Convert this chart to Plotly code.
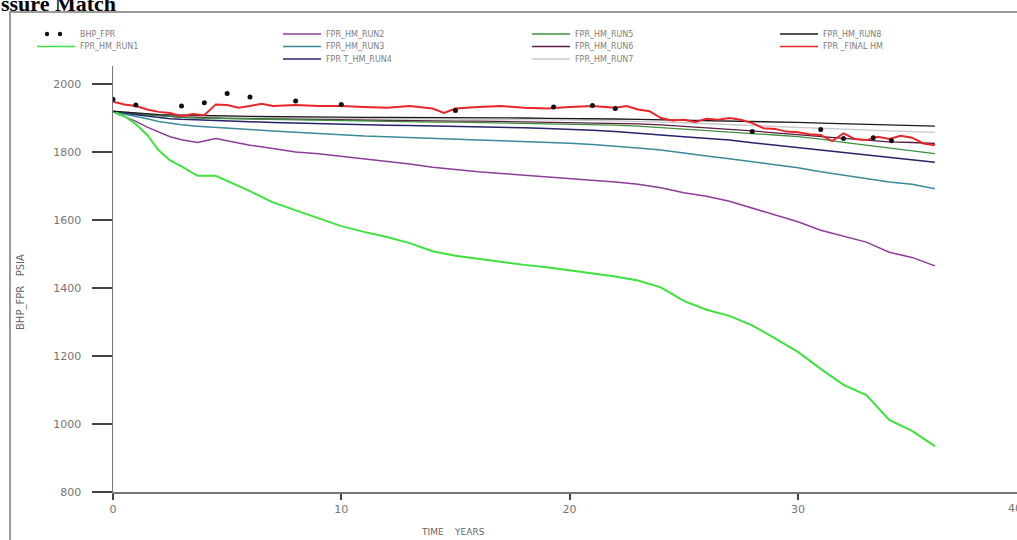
import plotly.graph_objects as go

# ---------------- data ----------------
T = [0, 0.5, 1, 1.5, 2, 2.5, 3, 3.7, 4.5,
     5, 6, 7, 8, 9, 10, 11, 12, 13, 14, 15, 16, 17, 18, 19, 20,
     21, 22, 23, 24, 25, 26, 27, 28, 29, 30, 31, 32, 33, 34, 35, 36]

RUN1 = [1920, 1905, 1882, 1850, 1805, 1775, 1758, 1730, 1730,
        1715, 1685, 1652, 1628, 1605, 1582, 1565, 1550, 1532, 1508, 1495, 1486, 1476, 1468, 1461, 1452,
        1444, 1434, 1422, 1402, 1362, 1336, 1318, 1290, 1252, 1212, 1162, 1115, 1085, 1012, 980, 935]
RUN2 = [1918, 1905, 1890, 1873, 1858, 1845, 1836, 1828, 1840,
        1833, 1820, 1810, 1800, 1795, 1788, 1780, 1772, 1765, 1755, 1748, 1742, 1737, 1732, 1728, 1722,
        1717, 1712, 1705, 1695, 1680, 1670, 1655, 1635, 1615, 1595, 1570, 1552, 1535, 1505, 1490, 1465]
RUN3 = [1918, 1912, 1905, 1898, 1890, 1885, 1880, 1876, 1872,
        1870, 1866, 1862, 1858, 1854, 1850, 1847, 1845, 1842, 1840, 1837, 1835, 1833, 1831, 1829, 1826,
        1822, 1818, 1812, 1806, 1796, 1788, 1780, 1772, 1762, 1754, 1742, 1732, 1722, 1712, 1705, 1692]
RUN4 = [1918, 1914, 1910, 1905, 1900, 1898, 1896, 1894, 1892,
        1891, 1889, 1887, 1885, 1883, 1881, 1880, 1879, 1878, 1877, 1875, 1874, 1872, 1871, 1869, 1867,
        1864, 1860, 1854, 1850, 1845, 1840, 1835, 1827, 1820, 1812, 1804, 1798, 1790, 1783, 1777, 1770]
RUN5 = [1918, 1915, 1912, 1909, 1906, 1904, 1902, 1900, 1899,
        1898, 1897, 1895, 1894, 1893, 1892, 1891, 1890, 1889, 1888, 1888, 1887, 1886, 1885, 1884, 1883,
        1881, 1879, 1876, 1872, 1868, 1864, 1860, 1855, 1850, 1845, 1838, 1828, 1820, 1810, 1802, 1795]
RUN6 = [1918, 1915, 1912, 1910, 1907, 1905, 1903, 1901, 1900,
        1899, 1898, 1897, 1896, 1895, 1895, 1894, 1893, 1893, 1892, 1891, 1891, 1890, 1890, 1889, 1888,
        1887, 1885, 1883, 1880, 1876, 1872, 1868, 1862, 1856, 1850, 1845, 1840, 1835, 1830, 1828, 1825]
RUN7 = [1918, 1916, 1913, 1911, 1909, 1907, 1906, 1905, 1904,
        1903, 1902, 1901, 1900, 1900, 1899, 1899, 1898, 1898, 1897, 1897, 1896, 1896, 1895, 1895, 1894,
        1893, 1892, 1890, 1888, 1886, 1884, 1881, 1878, 1875, 1872, 1869, 1866, 1864, 1862, 1860, 1858]
RUN8 = [1920, 1917, 1914, 1912, 1910, 1909, 1908, 1907, 1906,
        1906, 1905, 1904, 1904, 1903, 1903, 1902, 1902, 1902, 1901, 1901, 1900, 1900, 1900, 1899, 1899,
        1898, 1897, 1896, 1895, 1894, 1893, 1892, 1890, 1889, 1887, 1885, 1883, 1882, 1880, 1878, 1876]

T_FINAL = [0, 0.5, 1, 1.5, 2, 2.5, 3, 3.5, 4, 4.5, 5, 5.5, 6, 6.5, 7, 8, 9, 10, 11, 12, 13, 14,
           14.5, 15, 16, 17, 18, 19, 20, 21, 22, 22.5, 23, 23.5, 24, 24.5, 25, 25.5, 26, 26.5, 27,
           27.5, 28, 28.5, 29, 29.5, 30, 30.5, 31, 31.5, 32, 32.5, 33, 33.5, 34, 34.5, 35, 35.5, 36]
FINAL = [1948, 1940, 1935, 1925, 1918, 1915, 1905, 1912, 1908, 1940, 1938, 1930, 1935, 1942, 1935,
         1938, 1935, 1935, 1932, 1930, 1935, 1928, 1915, 1928, 1932, 1935, 1930, 1928, 1932, 1935,
         1930, 1935, 1925, 1920, 1900, 1893, 1895, 1888, 1898, 1895, 1900, 1895, 1885, 1870, 1868,
         1860, 1858, 1852, 1850, 1832, 1855, 1838, 1835, 1845, 1838, 1848, 1842, 1825, 1820]

BHP_T = [0, 1, 3, 4, 5, 6, 8, 10, 15, 19.3, 21, 22, 28, 31, 32, 33.3, 34.1]
BHP_P = [1955, 1938, 1935, 1945, 1972, 1962, 1950, 1940, 1922, 1932, 1937, 1928, 1860, 1866, 1840, 1842, 1833]

Y_TICKS = [800, 1000, 1200, 1400, 1600, 1800, 2000]
X_TICKS = [0, 10, 20, 30]

SERIES = [
    ("FPR_HM_RUN7", RUN7, "#c9c9c9", 1.3),
    ("FPR_HM_RUN6", RUN6, "#5a1d40", 1.3),
    ("FPR_HM_RUN5", RUN5, "#3d8f3d", 1.3),
    ("FPR T_HM_RUN4", RUN4, "#24246a", 1.5),
    ("FPR_HM_RUN3", RUN3, "#3a8a9c", 1.5),
    ("FPR_HM_RUN2", RUN2, "#8e3c9a", 1.5),
    ("FPR_HM_RUN1", RUN1, "#3ee23e", 2.0),
    ("FPR_HM_RUN8", RUN8, "#1a1a1a", 1.3),
]

# ---------------- layout geometry (pixels) ----------------
W, H = 1017, 540
L, R, TOP, B = 113, 0, 66, 540 - 492
PW, PH = W - L - R, H - TOP - B
XMAX = PW / 22.83
YMIN = 800
YMAX = 800 + PH / 0.34


def px(x):
    """window x-pixel -> paper coordinate"""
    return (x - L) / PW


def py(y):
    """window y-pixel -> paper coordinate"""
    return (H - B - y) / PH


fig = go.Figure()
for name, vals, col, w in SERIES:
    fig.add_trace(go.Scatter(x=T, y=vals, mode="lines", name=name,
                             line=dict(color=col, width=w)))
fig.add_trace(go.Scatter(x=T_FINAL, y=FINAL, mode="lines", name="FPR _FINAL HM",
                         line=dict(color="#e8262a", width=2)))
fig.add_trace(go.Scatter(x=BHP_T, y=BHP_P, mode="markers", name="BHP_FPR",
                         marker=dict(color="#111", size=5)))

tickfont = dict(family="DejaVu Sans", size=11, color="#757575")
fig.update_xaxes(range=[0, XMAX], tickvals=X_TICKS, ticks="outside", ticklen=6, tickwidth=2,
                 tickcolor="#444", showline=True, linecolor="#777", linewidth=1.5,
                 showgrid=False, zeroline=False, tickfont=tickfont, fixedrange=True)
fig.update_yaxes(range=[YMIN, YMAX], tickvals=Y_TICKS, ticks="outside", ticklen=20, tickwidth=2,
                 tickcolor="#444", showline=True, linecolor="#777", linewidth=1.5,
                 showgrid=False, zeroline=False, tickfont=tickfont, ticklabelstandoff=8,
                 fixedrange=True)

shapes = []
annotations = []
# outer frame
shapes.append(dict(type="rect", xref="paper", yref="paper", x0=px(10), x1=px(1040),
                   y0=py(580), y1=py(12), line=dict(color="#9a9a9a", width=2),
                   fillcolor="rgba(0,0,0,0)", layer="below"))

# legend (manual, 4 columns)
legfont = dict(family="DejaVu Sans", size=8, color="#808080")
rows = [34, 46.5, 59]
cols = [
    (37, 75, [("BHP_FPR", None, "dots"), ("FPR_HM_RUN1", "#3ee23e", "line")]),
    (283, 321, [("FPR_HM_RUN2", "#8e3c9a", "line"), ("FPR_HM_RUN3", "#3a8a9c", "line"),
                ("FPR T_HM_RUN4", "#24246a", "line")]),
    (532, 570, [("FPR_HM_RUN5", "#3d8f3d", "line"), ("FPR_HM_RUN6", "#5a1d40", "line"),
                ("FPR_HM_RUN7", "#c9c9c9", "line")]),
    (780, 818, [("FPR_HM_RUN8", "#1a1a1a", "line"), ("FPR _FINAL HM", "#e8262a", "line")]),
]
for x0, x1, items in cols:
    for (label, col, kind), ry in zip(items, rows):
        if kind == "line":
            shapes.append(dict(type="line", xref="paper", yref="paper", x0=px(x0), x1=px(x1),
                               y0=py(ry), y1=py(ry), line=dict(color=col, width=1.6)))
        else:
            for cx in (47, 60):
                shapes.append(dict(type="circle", xref="paper", yref="paper",
                                   x0=px(cx - 2.2), x1=px(cx + 2.2), y0=py(ry + 2.2), y1=py(ry - 2.2),
                                   fillcolor="#111", line=dict(color="#111", width=0)))
        annotations.append(dict(text=label, xref="paper", yref="paper", x=px(x1 + 3), y=py(ry),
                                xanchor="left", yanchor="middle", showarrow=False, font=legfont))

# title (cropped at top of the image)
annotations.append(dict(text="<b>ssure Match</b>", xref="paper", yref="paper", x=px(-1), y=py(18),
                        xanchor="left", yanchor="bottom", showarrow=False,
                        font=dict(family="Liberation Serif", size=22, color="#000")))
# axis titles
annotations.append(dict(text="BHP_FPR   PSIA", xref="paper", yref="paper", x=px(21), y=py(292),
                        xanchor="center", yanchor="middle", textangle=-90, showarrow=False,
                        font=dict(family="DejaVu Sans", size=10, color="#666")))
annotations.append(dict(text="TIME    YEARS", xref="paper", yref="paper", x=px(453), y=py(532),
                        xanchor="center", yanchor="middle", showarrow=False,
                        font=dict(family="DejaVu Sans", size=9, color="#666")))
# cut-off "40" tick label at the right edge
annotations.append(dict(text="40", xref="paper", yref="paper", x=px(1006), y=py(508),
                        xanchor="left", yanchor="middle", showarrow=False, font=tickfont))

fig.update_layout(width=W, height=H, autosize=False,
                  margin=dict(l=L, r=R, t=TOP, b=B, pad=0),
                  paper_bgcolor="white", plot_bgcolor="white",
                  showlegend=False, shapes=shapes, annotations=annotations)

fig.write_html("out.html", config={"displayModeBar": False, "staticPlot": True},
               post_script="document.body.style.margin='0';document.body.style.overflow='hidden';")
